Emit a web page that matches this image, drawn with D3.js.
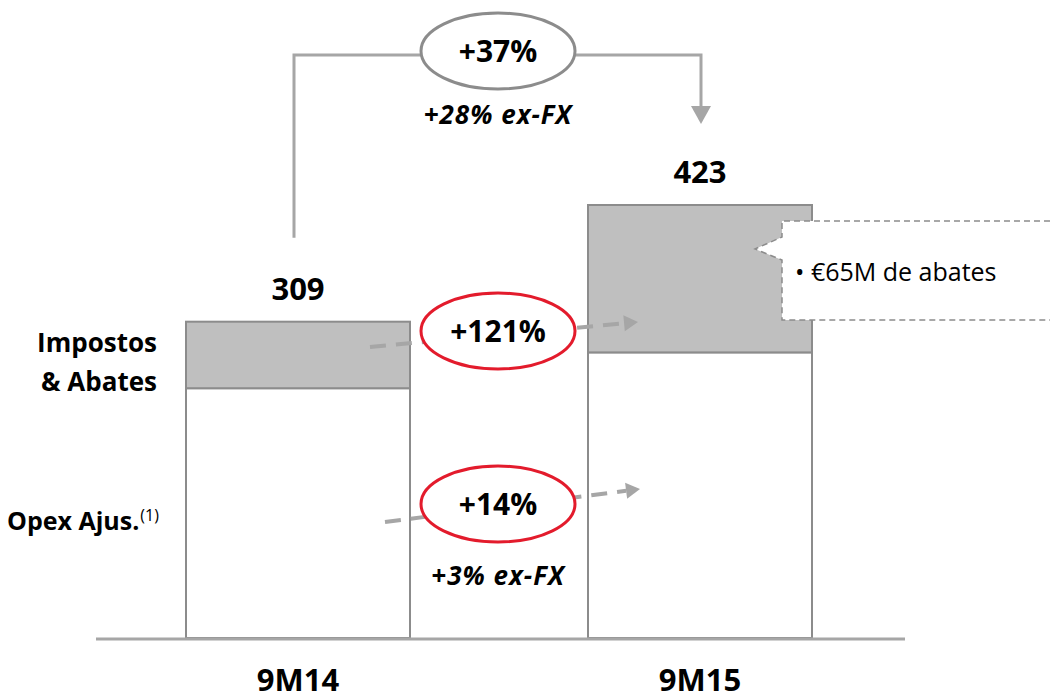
<!DOCTYPE html>
<html>
<head>
<meta charset="utf-8">
<script src="https://cdn.jsdelivr.net/npm/d3@7"></script>
<style>
  html, body { margin: 0; padding: 0; background: #fff; }
  svg { display: block; font-family: "Open Sans", Lato, sans-serif; }
</style>
</head>
<body>
<svg id="chart" width="1050" height="700"></svg>
<script>
// ---- data ----
const categories = ["9M14", "9M15"];
const opexValues = [244, 279];        // Opex Ajus.(1)
const taxValues = [65, 144];          // Impostos & Abates
const totalLabels = ["309", "423"];
const seriesNames = ["Impostos", "& Abates", "Opex Ajus."];
const growthTotal = "+37%";
const growthTotalExFx = "+28% ex-FX";
const growthTaxes = "+121%";
const growthOpex = "+14%";
const growthOpexExFx = "+3% ex-FX";
const calloutText = "\u2022 \u20AC65M de abates";

const svg = d3.select("#chart");
const totals = categories.map((c, i) => opexValues[i] + taxValues[i]);

const x = d3.scaleBand().domain(categories).range([96, 902])
  .paddingInner(0.4428).paddingOuter(0.2239);
const y = d3.scaleLinear().domain([0, 423]).range([638, 205]);

const GRAY = "#a6a6a6";
const BAR_STROKE = "#8c8c8c";
const RED = "#e31b2c";
const cx = c => x(c) + x.bandwidth() / 2;

// bars
const bars = svg.append("g");
categories.forEach((c, i) => {
  bars.append("rect")
    .attr("x", x(c)).attr("width", x.bandwidth())
    .attr("y", y(opexValues[i])).attr("height", y(0) - y(opexValues[i]))
    .attr("fill", "#ffffff").attr("stroke", BAR_STROKE).attr("stroke-width", 2);
  bars.append("rect")
    .attr("x", x(c)).attr("width", x.bandwidth())
    .attr("y", y(totals[i])).attr("height", y(opexValues[i]) - y(totals[i]))
    .attr("fill", "#bfbfbf").attr("stroke", BAR_STROKE).attr("stroke-width", 2);
});

// baseline axis
svg.append("line").attr("x1", 96).attr("x2", 905)
  .attr("y1", y(0) + 1).attr("y2", y(0) + 1)
  .attr("stroke", GRAY).attr("stroke-width", 3);

// category labels
svg.selectAll("text.cat").data(categories).join("text")
  .attr("class", "cat")
  .attr("x", d => cx(d)).attr("y", 691)
  .attr("text-anchor", "middle").attr("font-weight", 700)
  .attr("font-size", 31).attr("fill", "#000").text(d => d);

// total labels
svg.selectAll("text.tot").data(categories).join("text")
  .attr("class", "tot")
  .attr("x", d => cx(d)).attr("y", (d, i) => y(totals[i]) - 22)
  .attr("text-anchor", "middle").attr("font-weight", 700)
  .attr("font-size", 31).attr("fill", "#000").text((d, i) => totalLabels[i]);

// left series labels
svg.append("text").attr("x", 157).attr("y", 352).attr("text-anchor", "end")
  .attr("font-weight", 700).attr("font-size", 26).text(seriesNames[0]);
svg.append("text").attr("x", 157).attr("y", 391).attr("text-anchor", "end")
  .attr("font-weight", 700).attr("font-size", 26).text(seriesNames[1]);
const opexLbl = svg.append("text").attr("x", 7).attr("y", 530)
  .attr("font-weight", 700).attr("font-size", 25);
opexLbl.append("tspan").text(seriesNames[2]);
opexLbl.append("tspan").attr("font-weight", 400).attr("font-size", 16)
  .attr("dy", -9).attr("dx", 1).text("(1)");

// ---- top bracket ----
const bx1 = cx(categories[0]) - 4, bx2 = cx(categories[1]) + 1;
const bracketY = 55, midX = (bx1 + bx2) / 2 + 0.5;
svg.append("path")
  .attr("d", `M${bx1},${y(totals[0]) - 84} V${bracketY} H${bx2} V${y(totals[1]) - 97}`)
  .attr("fill", "none").attr("stroke", GRAY).attr("stroke-width", 3);
svg.append("path")
  .attr("d", `M${bx2 - 10},${y(totals[1]) - 99} L${bx2 + 10},${y(totals[1]) - 99} L${bx2},${y(totals[1]) - 81} Z`)
  .attr("fill", GRAY);
svg.append("ellipse").attr("cx", midX).attr("cy", 51).attr("rx", 77).attr("ry", 38)
  .attr("fill", "#fff").attr("stroke", "#8c8c8c").attr("stroke-width", 3);
svg.append("text").attr("x", midX).attr("y", 62).attr("text-anchor", "middle")
  .attr("font-weight", 700).attr("font-size", 30).text(growthTotal);
svg.append("text").attr("x", midX).attr("y", 124).attr("text-anchor", "middle")
  .attr("font-weight", 700).attr("font-style", "italic").attr("font-size", 26)
  .attr("letter-spacing", 1).text(growthTotalExFx);

// ---- dashed growth arrows ----
function dashedArrow(x1, y1, x2, y2) {
  const ang = Math.atan2(y2 - y1, x2 - x1);
  const L = 14, W = 8;
  const bxp = x2 - L * Math.cos(ang), byp = y2 - L * Math.sin(ang);
  svg.append("line").attr("x1", x1).attr("y1", y1).attr("x2", bxp).attr("y2", byp)
    .attr("stroke", GRAY).attr("stroke-width", 4).attr("stroke-dasharray", "16,10");
  const px = -Math.sin(ang) * W, py = Math.cos(ang) * W;
  svg.append("path")
    .attr("d", `M${x2},${y2} L${bxp + px},${byp + py} L${bxp - px},${byp - py} Z`)
    .attr("fill", GRAY);
}
dashedArrow(370, 347, 638, 322);
dashedArrow(385, 522, 640, 489);

// red ellipses
function redBadge(cy, label) {
  svg.append("ellipse").attr("cx", midX).attr("cy", cy).attr("rx", 77).attr("ry", 38)
    .attr("fill", "#fff").attr("stroke", RED).attr("stroke-width", 3);
  svg.append("text").attr("x", midX).attr("y", cy + 11).attr("text-anchor", "middle")
    .attr("font-weight", 700).attr("font-size", 30).text(label);
}
redBadge(331, growthTaxes);
redBadge(504, growthOpex);
svg.append("text").attr("x", midX).attr("y", 585).attr("text-anchor", "middle")
  .attr("font-weight", 700).attr("font-style", "italic").attr("font-size", 26)
  .attr("letter-spacing", 1).text(growthOpexExFx);

// ---- callout ----
svg.append("path")
  .attr("d", "M1060,221 H782 V237 L755,249 L782,260 V320 H1060")
  .attr("fill", "#fff").attr("stroke", "#8c8c8c").attr("stroke-width", 1.5)
  .attr("stroke-dasharray", "6,4");
svg.append("text").attr("x", 795).attr("y", 281)
  .attr("font-size", 25).attr("fill", "#000").text(calloutText);
</script>
</body>
</html>
